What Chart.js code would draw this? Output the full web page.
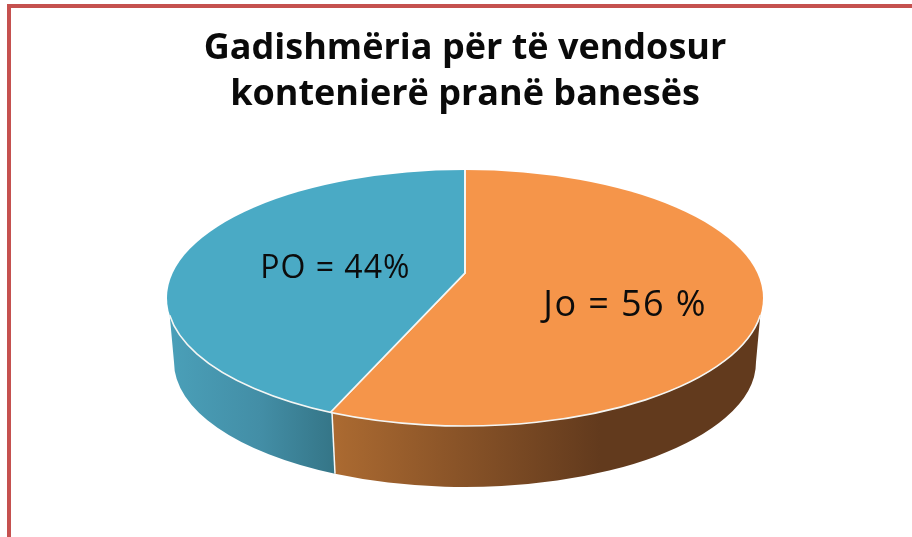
<!DOCTYPE html>
<html><head><meta charset="utf-8">
<style>html,body{margin:0;padding:0;background:#fff;overflow:hidden}canvas{display:block}</style>
<script src="https://cdn.jsdelivr.net/npm/chart.js@4"></script>
</head><body><canvas id="c" width="912" height="537"></canvas>
<script>
const categories = ["Jo", "PO"];
const values = [56, 44];
const sliceLabels = ["Jo = 56 %", "PO = 44%"];
const titleLines = ["Gadishmëria për të vendosur", "kontenierë pranë banesës"];
const sliceColors = ["#f5954a", "#4aaac5"];
const labelRadius = [163, 132];
const labelDrop = [30.5, 15.5];
const labelFontSize = [36, 32];
const labelSpacing = ["1.4px", "1px"];

const G = {cx:465, topCy:298, rx:298, ry:128, apexY:273, squash:0.41, botCy:362, botRx:291, botRy:125};
function lowerEdge(ctx, cy, rx, ry, a0, a1, ccw){ ctx.ellipse(G.cx, cy, rx, ry, 0, a0, a1, ccw); }
function tAt(x, rx){ return Math.acos((x-G.cx)/rx); }

const pie3d = {
  id:'pie3d',
  beforeDraw(chart){
    const c = chart.ctx;
    c.save();
    c.fillStyle = '#fff'; c.fillRect(0,0,chart.width,chart.height);
    c.fillStyle = '#c5514f';
    c.fillRect(7,4,chart.width-7,4);
    c.fillRect(7,4,4,chart.height-4);
    c.restore();
  },
  beforeDatasetsDraw(chart){
    const c = chart.ctx, arc = chart.getDatasetMeta(0).data[0];
    const sA = 0.135;            // angle where the wall leaves the top ellipse
    const splitTop = tAt(332, G.rx), splitBot = tAt(335, G.botRx);
    const sB = 0.0;
    // brown wall
    c.save();
    let g = c.createLinearGradient(335,0,600,0);
    g.addColorStop(0,'#ab6a31'); g.addColorStop(0.45,'#8a5428'); g.addColorStop(1,'#623a1d');
    c.fillStyle = g;
    c.beginPath();
    lowerEdge(c, G.topCy, G.rx, G.ry, sA, splitTop, false);
    lowerEdge(c, G.botCy, G.botRx, G.botRy, splitBot, sB, true);
    c.closePath(); c.fill();
    // blue wall
    g = c.createLinearGradient(172,0,332,0);
    g.addColorStop(0,'#4a9fb8'); g.addColorStop(0.55,'#438ea6'); g.addColorStop(1,'#357688');
    c.fillStyle = g;
    c.beginPath();
    lowerEdge(c, G.topCy, G.rx, G.ry, splitTop, Math.PI-sA, false);
    lowerEdge(c, G.botCy, G.botRx, G.botRy, Math.PI, splitBot, true);
    c.closePath(); c.fill();
    // wall seam
    c.strokeStyle = '#f4f8f8'; c.lineWidth = 1.5;
    c.beginPath();
    c.moveTo(G.cx+G.rx*Math.cos(splitTop), G.topCy+G.ry*Math.sin(splitTop));
    c.lineTo(G.cx+G.botRx*Math.cos(splitBot), G.botCy+G.botRy*Math.sin(splitBot));
    c.stroke();
    c.restore();
    // top face: the library's arcs, squashed and clipped to the ellipse
    c.save();
    c.beginPath(); c.ellipse(G.cx, G.topCy, G.rx, G.ry, 0, 0, Math.PI*2); c.clip();
    c.translate(G.cx, G.apexY); c.scale(1, G.squash); c.translate(-arc.x, -arc.y);
  },
  afterDatasetsDraw(chart){
    const c = chart.ctx, meta = chart.getDatasetMeta(0);
    c.restore();
    c.save();
    c.strokeStyle = '#f4f6f4'; c.lineWidth = 1.6;
    c.beginPath(); lowerEdge(c, G.topCy, G.rx, G.ry, 0.135, Math.PI-0.135, false); c.stroke();
    c.fillStyle = '#0c0c0c';
    c.textAlign = 'center'; c.textBaseline = 'alphabetic';
    meta.data.forEach((a,i)=>{
      const m = (a.startAngle + a.endAngle)/2;
      const x = G.cx + labelRadius[i]*Math.cos(m);
      const y = G.apexY + labelRadius[i]*Math.sin(m)*G.squash + labelDrop[i];
      c.font = labelFontSize[i] + 'px "Open Sans"';
      c.letterSpacing = labelSpacing[i];
      c.fillText(sliceLabels[i], x, y);
    });
    c.restore();
  }
};

new Chart(document.getElementById('c'), {
  type:'pie',
  data:{labels:categories, datasets:[{data:values, backgroundColor:sliceColors, borderColor:'#f4f6f4', borderWidth:2, clip:false}]},
  options:{
    responsive:false, animation:false, devicePixelRatio:1,
    radius:420, rotation:0,
    layout:{padding:{left:18,right:0,top:0,bottom:0}},
    plugins:{
      legend:{display:false}, tooltip:{enabled:false},
      title:{display:true, text:titleLines, fullSize:false, color:'#0a0a0a',
        font:{family:'"Open Sans"', size:36, weight:'700', lineHeight:1.3},
        padding:{top:25,bottom:8}}
    }
  },
  plugins:[pie3d]
});
</script></body></html>
